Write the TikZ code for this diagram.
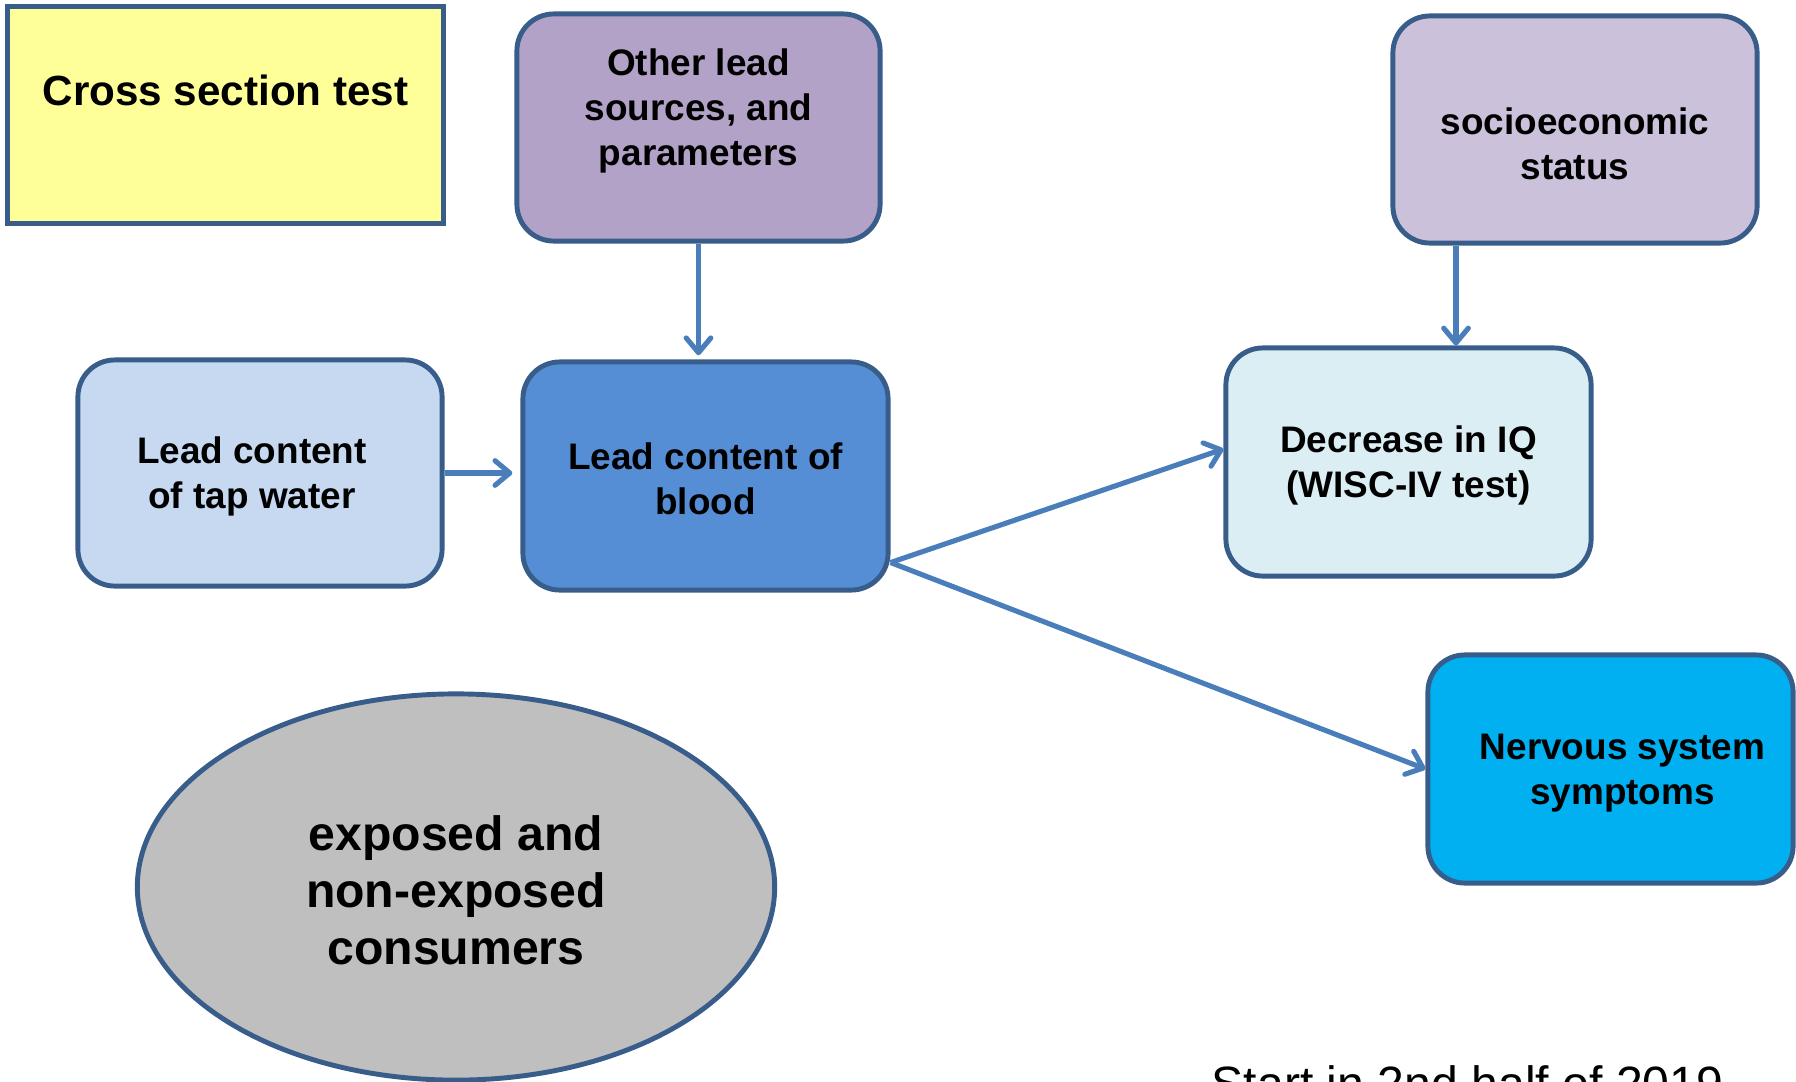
\documentclass[tikz,border=0pt]{standalone}
\usepackage{fontspec}
\setmainfont{Liberation Sans}
\usetikzlibrary{arrows.meta,calc,shapes.geometric}
\definecolor{bord}{HTML}{385D8A}
\definecolor{arrc}{HTML}{4A7EBB}
\definecolor{cyel}{HTML}{FFFF99}
\definecolor{cother}{HTML}{B3A2C7}
\definecolor{csocio}{HTML}{CCC1DA}
\definecolor{ctap}{HTML}{C6D9F1}
\definecolor{cblood}{HTML}{558ED5}
\definecolor{ciq}{HTML}{DBEEF4}
\definecolor{cnerv}{HTML}{00B0F0}
\definecolor{cell}{HTML}{BFBFBF}
\begin{document}
\begin{tikzpicture}[x=0.01cm,y=-0.01cm,
  box/.style={draw=bord,line width=1.4pt,rounded corners=10.5pt,inner sep=0pt,
    minimum width=3.65cm,minimum height=2.28cm},
  txt/.style={font=\bfseries\fontsize{10.5}{12.8}\selectfont,align=center,inner sep=0pt},
  arr/.style={draw=arrc,line width=1.45pt,-{Straight Barb[length=4.2pt,width=7pt,round]}}]
\useasboundingbox (0,0) rectangle (1796,1081);
\clip (0,0) rectangle (1796,1081);

% cross section box
\node[draw=bord,line width=1.4pt,fill=cyel,inner sep=0pt,minimum width=4.35cm,minimum height=2.16cm,
  label={[font=\bfseries\fontsize{12}{14}\selectfont,inner sep=0pt,yshift=7.1pt]center:Cross section test}]
  (cross) at (225.5,115) {};

\node[box,fill=cother,minimum width=3.63cm,minimum height=2.27cm,
  label={[txt,yshift=4.6pt]center:{Other lead\\sources, and\\parameters}}]
  (other) at (698.5,127.5) {};

\node[box,fill=csocio,minimum width=3.64cm,minimum height=2.27cm,
  label={[txt,yshift=-4.1pt]center:{socioeconomic\\status}}]
  (socio) at (1575,129.5) {};

\node[box,fill=ctap,minimum width=3.64cm,minimum height=2.26cm,
  label={[txt,xshift=-2.3pt,yshift=-1.1pt]center:{Lead content\\of tap water}}]
  (tap) at (260,473) {};

\node[box,fill=cblood,
  label={[txt,yshift=-0.8pt]center:{Lead content of\\blood}}]
  (blood) at (705.5,476) {};

\node[box,fill=ciq,
  label={[txt,yshift=-1pt]center:{Decrease in IQ\\(WISC-IV test)}}]
  (iq) at (1408.5,462) {};

\node[box,fill=cnerv,
  label={[txt,xshift=3.4pt,yshift=-1.3pt]center:{Nervous system\\symptoms}}]
  (nerv) at (1610.5,769) {};

\node[ellipse,draw=bord,line width=1.4pt,fill=cell,inner sep=0pt,
  minimum width=6.37cm,minimum height=3.86cm,
  label={[align=center,inner sep=0pt,yshift=-0.9pt,font=\bfseries\fontsize{13.7}{16.3}\selectfont]center:{exposed and\\non-exposed\\consumers}}]
  (pop) at (456,887) {};

\node[anchor=base west,inner sep=0pt,font=\fontsize{13.7}{16}\selectfont]
  (start) at (1211,1100) {Start in 2nd half of 2019};

% connectors
\draw[arr,shorten >=1.2pt] (other.south) -- (other.south |- blood.north);
\draw[arr,shorten >=2.3pt] (tap.east) -- (tap.east -| blood.west);
\coordinate (s1) at ($(socio.south)+(-119,0)$);
\draw[arr] (s1) -- (s1 |- iq.north);
\coordinate (b1) at ($(blood.south east)+(0,-30)$);
\coordinate (iqin) at ($(iq.west)+(0,-13)$);
\draw[arr] (b1) -- (iqin);
\draw[arr] (b1) -- (nerv.west);
\end{tikzpicture}
\end{document}
